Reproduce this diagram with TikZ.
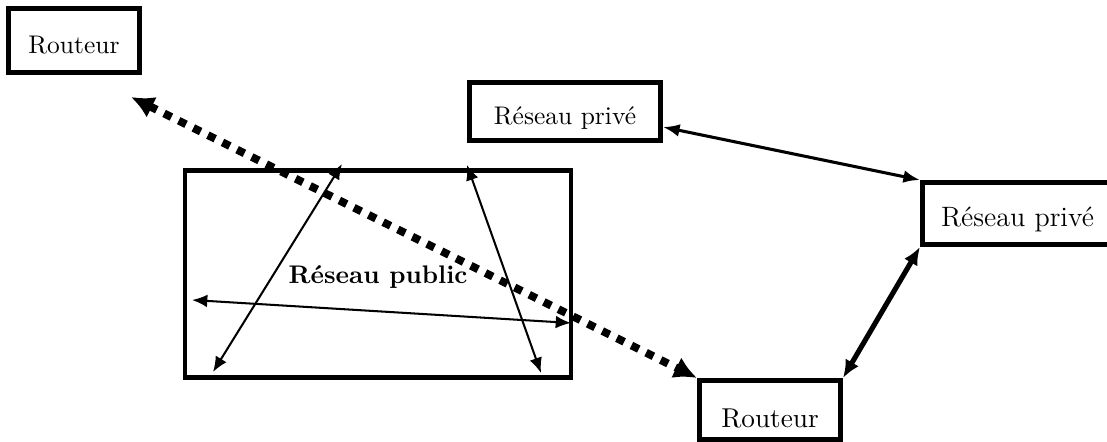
\documentclass[tikz,border=0pt]{standalone}
\usetikzlibrary{arrows.meta}

\begin{document}
\begin{tikzpicture}
[x=0.0138cm,y=-0.0138cm,
  boxDecorate/.style={shape=rectangle,draw,line width=1.8pt,inner sep=0pt,text height=11pt,text depth=0.5pt},
  lineDecorate/.style={{Latex[length=6pt,width=5pt]}-{Latex[length=6pt,width=5pt]},line width=0.8pt},
  linkDecorate/.style={{Latex[length=6.5pt,width=5pt]}-{Latex[length=6.5pt,width=5pt]},line width=1.2pt},
  tunnelDecorate/.style={{Latex[length=9pt,width=9pt]}-{Latex[length=9pt,width=9pt]},line width=3.1pt,dash pattern=on 3.2pt off 3.2pt}]
\useasboundingbox (0,0) rectangle (1107,442);
%% boxes
\node (routeurA) at (74,40.5) [boxDecorate,minimum width=1.813cm,minimum height=0.889cm] {Routeur};
\node (priveA) at (565,111.5) [boxDecorate,minimum width=2.641cm,minimum height=0.806cm] {Réseau privé};
\node (priveB) at (1017.5,213.5) [boxDecorate,minimum width=2.628cm,minimum height=0.861cm,font=\fontsize{11}{13}\selectfont] {Réseau privé};
\node (routeurB) at (770,410) [boxDecorate,minimum width=1.951cm,minimum height=0.820cm,text height=14pt,font=\fontsize{10.7}{13}\selectfont] {Routeur};
\node (public) at (378,274) [boxDecorate,minimum width=5.319cm,minimum height=2.862cm,text height=8.5pt,text depth=0.7pt,font=\bfseries] {Réseau public};
%% points inside the public network
\foreach \pointname/\x/\y in {
  a1/213/372, a2/342/164,
  b1/467/165, b2/541/373,
  c1/192/300, c2/571/323}
{
  \coordinate (\pointname) at (\x,\y);
}
\coordinate (tunnelEnd) at (131,97);
%% links
\path
\foreach \startnode/\endnode in {a1/a2, b1/b2, c1/c2}
{
  (\startnode) edge[lineDecorate] (\endnode)
};
\draw[linkDecorate] (priveA.-9) -- (priveB.north west);
\draw[{Latex[length=7pt,width=6pt]}-{Latex[length=7pt,width=6pt]},line width=2pt] (routeurB.north east) -- (priveB.south west);
\draw[tunnelDecorate] (tunnelEnd) -- (routeurB.north west);
\end{tikzpicture}
\end{document}
